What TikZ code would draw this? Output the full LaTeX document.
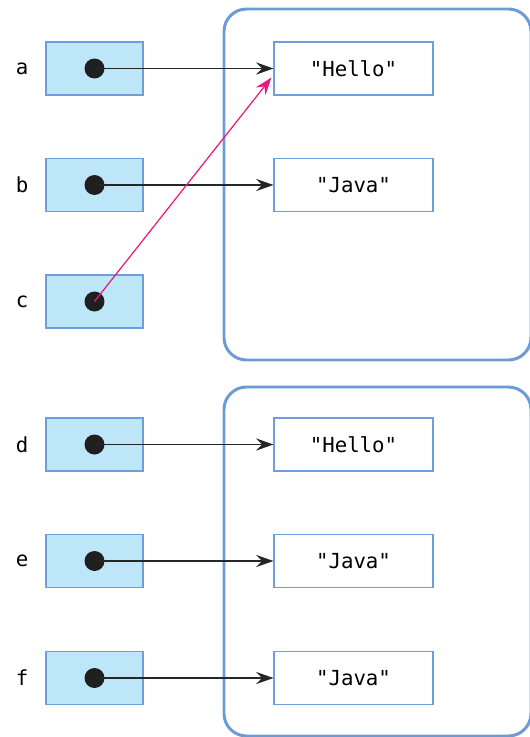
\documentclass[tikz,border=0pt]{standalone}
\usepackage{fontspec}
\setmonofont{DejaVu Sans Mono}
\usepackage{tikz}
\usetikzlibrary{arrows.meta}
\definecolor{varfill}{HTML}{BEE6F9}
\definecolor{edgeblue}{HTML}{6F9FDA}
\definecolor{poolblue}{HTML}{6C9BD6}
\definecolor{refpink}{HTML}{E8197F}
\tikzset{
  varbox/.style={draw=edgeblue,fill=varfill,line width=0.6pt,minimum width=1.94cm,minimum height=1.06cm,inner sep=0pt},
  strbox/.style={draw=edgeblue,fill=white,line width=0.6pt,minimum width=3.18cm,minimum height=1.06cm,inner sep=0pt,font=\fontsize{11.8}{13}\ttfamily},
  varname/.style={font=\fontsize{11.8}{13}\ttfamily,inner sep=0pt},
  dot/.style={circle,fill=black!88,minimum size=0.4cm,inner sep=0pt},
  pool/.style={draw=poolblue,line width=1.7pt,rounded corners=0.45cm},
  ref/.style={-{Stealth[length=10pt,width=7pt,inset=3.5pt]},line width=0.7pt,black!85},
  pinkref/.style={-{Stealth[length=10pt,width=7pt,inset=3.5pt]},line width=0.7pt,refpink}
}
\begin{document}
\begin{tikzpicture}[x=0.02cm,y=-0.02cm]
\useasboundingbox (0,0) rectangle (529,737);
% string pools
\draw [pool] (224,9) rectangle (531,360);
\draw [pool] (224,387) rectangle (531,736);
% variables
\node [varname] (la) at (22,68.5) {a};
\node [varname] (lb) at (22,185) {b};
\node [varname] (lc) at (22,301.5) {c};
\node [varname] (ld) at (22,444.5) {d};
\node [varname] (le) at (22,561) {e};
\node [varname] (lf) at (22,678) {f};
\node [varbox] (a) at (94.5,68.5) {};
\node [varbox] (b) at (94.5,185) {};
\node [varbox] (c) at (94.5,301.5) {};
\node [varbox] (d) at (94.5,444.5) {};
\node [varbox] (e) at (94.5,561) {};
\node [varbox] (f) at (94.5,678) {};
\node [dot] (pa) at (a) {};
\node [dot] (pb) at (b) {};
\node [dot] (pc) at (c) {};
\node [dot] (pd) at (d) {};
\node [dot] (pe) at (e) {};
\node [dot] (pf) at (f) {};
% strings
\node [strbox] (s1) at (353.5,68.5) {"Hello"};
\node [strbox] (s2) at (353.5,185) {"Java"};
\node [strbox] (s3) at (353.5,444.5) {"Hello"};
\node [strbox] (s4) at (353.5,561) {"Java"};
\node [strbox] (s5) at (353.5,678) {"Java"};
% references
\draw [ref] (pa.center) -- (s1.west);
\draw [ref] (pb.center) -- (s2.west);
\draw [pinkref] (pc.center) -- ([xshift=-0.04cm,yshift=-0.18cm]s1.west);
\draw [ref] (pd.center) -- (s3.west);
\draw [ref] (pe.center) -- (s4.west);
\draw [ref] (pf.center) -- (s5.west);
\end{tikzpicture}
\end{document}
